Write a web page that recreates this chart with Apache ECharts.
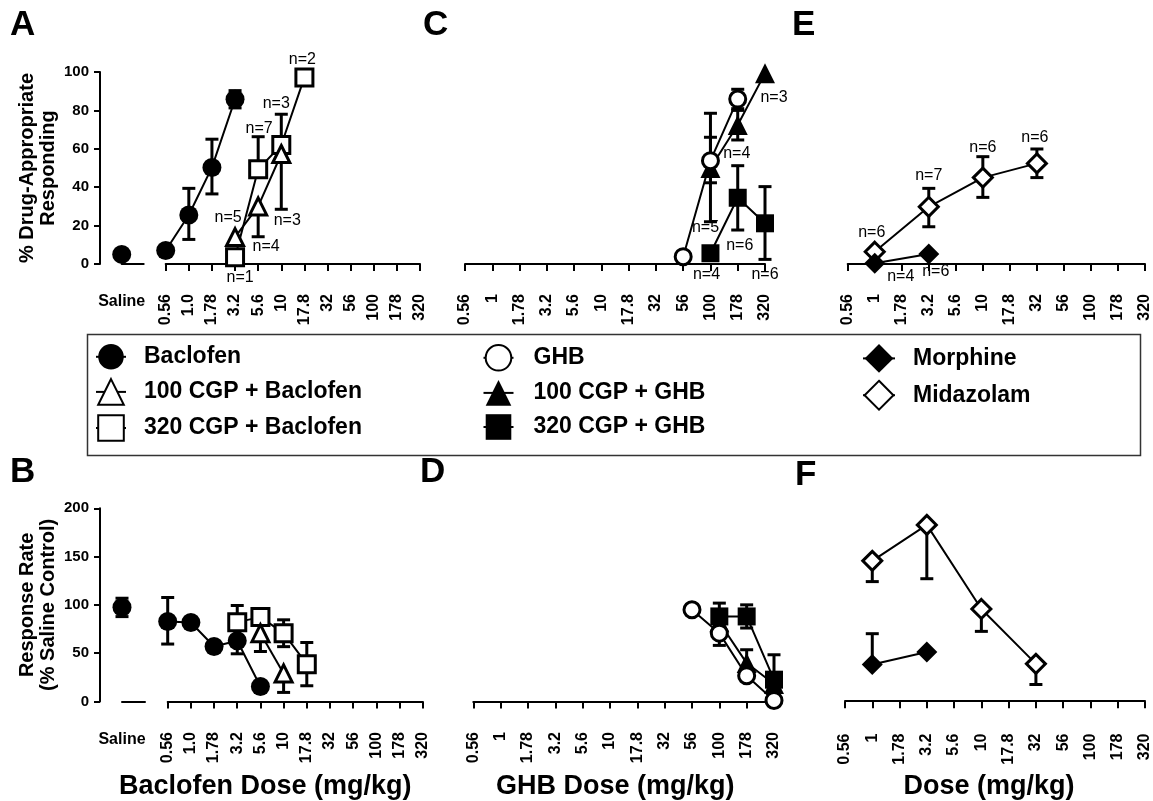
<!DOCTYPE html>
<html>
<head>
<meta charset="utf-8">
<script src="https://cdn.jsdelivr.net/npm/echarts@6/dist/echarts.min.js"></script>
<style>
  html, body { margin: 0; padding: 0; background: #fff; }
  #chart { width: 1153px; height: 801px; }
</style>
</head>
<body>
<div id="chart"></div>
<script>
const FONT = '"Liberation Sans", Arial, Helvetica, sans-serif';

// dose tick labels (half-log steps)
const bacDoses = ['0.56', '1.0', '1.78', '3.2', '5.6', '10', '17.8', '32', '56', '100', '178', '320'];
const doses = ['0.56', '1', '1.78', '3.2', '5.6', '10', '17.8', '32', '56', '100', '178', '320'];
const salineCats = ['Saline', ''];

// ---- A: % drug-appropriate responding, baclofen ----
const salineA = 5;
const bacA_dose = ['0.56', '1.0', '1.78', '3.2'];
const bacA_mean = [7, 25.5, 50.3, 85.8];
const bacA_lo = [null, 12.8, 36.5, 81.3];
const bacA_hi = [null, 39.4, 65, 90.3];

const c100BacA_dose = ['3.2', '5.6', '10'];
const c100BacA_mean = [14, 30, 57.3];
const c100BacA_lo = [null, 14.2, 28.5];
const c100BacA_hi = [null, null, null];
const c100BacA_n = [5, 4, 3];

const c320BacA_dose = ['3.2', '5.6', '10', '17.8'];
const c320BacA_mean = [3.5, 49.3, 62, 97.2];
const c320BacA_lo = [null, null, null, null];
const c320BacA_hi = [null, 66.3, 78, null];
const c320BacA_n = [1, 7, 3, 2];

// ---- B: response rate, baclofen ----
const salineB = 97.6;
const salineB_lo = 88;
const salineB_hi = 107;
const bacB_dose = ['0.56', '1.0', '1.78', '3.2', '5.6'];
const bacB_mean = [82.8, 81.7, 56.9, 62.8, 15.5];
const bacB_lo = [59.4, null, null, 49.3, null];
const bacB_hi = [107.6, null, null, 76.3, null];

const c100BacB_dose = ['5.6', '10'];
const c100BacB_mean = [70.7, 29];
const c100BacB_lo = [51.7, 9.3];
const c100BacB_hi = [89.7, null];

const c320BacB_dose = ['3.2', '5.6', '10', '17.8'];
const c320BacB_mean = [82.1, 87.3, 70.7, 38.6];
const c320BacB_lo = [65, null, 56.7, 16.2];
const c320BacB_hi = [99.3, null, 84.5, 61];

// ---- C: % drug-appropriate responding, GHB ----
const ghbC_dose = ['56', '100', '178'];
const ghbC_mean = [3.8, 53.8, 85.9];
const ghbC_lo = [null, 42.3, 80.9];
const ghbC_hi = [null, 66, 91];

const c100GhbC_dose = ['100', '178', '320'];
const c100GhbC_mean = [50, 72.4, 99.3];
const c100GhbC_lo = [22, 64.6, null];
const c100GhbC_hi = [78.5, 80, null];
const c100GhbC_n = [5, 4, 3];

const c320GhbC_dose = ['100', '178', '320'];
const c320GhbC_mean = [5.6, 34.5, 21.2];
const c320GhbC_lo = [null, 17.7, 2.4];
const c320GhbC_hi = [null, 51.2, 40.3];
const c320GhbC_n = [4, 6, 6];

// ---- D: response rate, GHB ----
const ghbD_dose = ['56', '100', '178', '320'];
const ghbD_mean = [94.9, 70.7, 26.6, 1];
const ghbD_lo = [null, 58, null, null];
const ghbD_hi = [null, null, null, null];

const c100GhbD_dose = ['100', '178', '320'];
const c100GhbD_mean = [82, 39.7, 18];
const c100GhbD_lo = [null, null, null];
const c100GhbD_hi = [null, 53.5, null];

const c320GhbD_dose = ['100', '178', '320'];
const c320GhbD_mean = [88, 88, 22.5];
const c320GhbD_lo = [null, 76, null];
const c320GhbD_hi = [101.8, 100, 48.3];

// ---- E: % drug-appropriate responding, morphine / midazolam ----
const midE_dose = ['1', '3.2', '10', '32'];
const midE_mean = [6.4, 29.8, 45, 52.4];
const midE_lo = [null, 19.4, 34.7, 45];
const midE_hi = [null, 39.4, 55.9, 59.9];
const midE_n = [6, 7, 6, 6];

const morE_dose = ['1', '3.2'];
const morE_mean = [0.4, 5.2];
const morE_n = [4, 6];

// ---- F: response rate, morphine / midazolam ----
const midF_dose = ['1', '3.2', '10', '32'];
const midF_mean = [145.5, 182.8, 95.6, 38.7];
const midF_lo = [124, 127, 72.4, 17.3];
const midF_hi = [null, null, null, null];

const morF_dose = ['1', '3.2'];
const morF_mean = [38, 51];
const morF_lo = [null, null];
const morF_hi = [70, null];

// ---- styles ----
const STYLE = {
  'Baclofen':            { symbol: 'circle',   size: 19, fill: '#000', bw: 0 },
  '100 CGP + Baclofen':  { symbol: 'triangle', size: 17, fill: '#fff', bw: 3 },
  '320 CGP + Baclofen':  { symbol: 'rect',     size: 17, fill: '#fff', bw: 3 },
  'GHB':                 { symbol: 'circle',   size: 16, fill: '#fff', bw: 3 },
  '100 CGP + GHB':       { symbol: 'triangle', size: 20, fill: '#000', bw: 0 },
  '320 CGP + GHB':       { symbol: 'rect',     size: 18, fill: '#000', bw: 0 },
  'Morphine':            { symbol: 'diamond',  size: 21, fill: '#000', bw: 0 },
  'Midazolam':           { symbol: 'diamond',  size: 19, fill: '#fff', bw: 3 }
};

// n-label offsets from the symbol centre (px)
const OFF_c100BacA = [[-7, -20], [8, 40], [6, 67]];
const OFF_c320BacA = [[5, 20], [1, -41], [-5, -41], [-2, -18]];
const OFF_c100GhbC = [[-5, 60], [-1, 29], [9, 24]];
const OFF_c320GhbC = [[-4, 21], [2, 48], [0, 51]];
const OFF_midE = [[-3, -19], [0, -31], [0, -30], [-2, -26]];
const OFF_morE = [[26, 13], [7, 18]];

const grids = [
  { left: 165.7, top: 72, width: 254.3, height: 192 },      // 0 A
  { left: 121.7, top: 72, width: 22, height: 192 },         // 1 A saline
  { left: 465, top: 72, width: 300, height: 192 },          // 2 C
  { left: 847.7, top: 72, width: 304, height: 192 },        // 3 E
  { left: 167.7, top: 508.3, width: 255, height: 193.4 },   // 4 B
  { left: 122, top: 508.3, width: 23, height: 193.4 },      // 5 B saline
  { left: 473.3, top: 508.3, width: 300.7, height: 193.4 }, // 6 D
  { left: 845, top: 508.3, width: 302.3, height: 193.4 }    // 7 F
];

function doseAxis(gridIndex, labels, offset, extra) {
  return Object.assign({
    type: 'category', gridIndex, data: labels, boundaryGap: false, offset,
    axisLine: { lineStyle: { color: '#000', width: 2 } },
    axisTick: { show: true, length: 7, interval: 0, lineStyle: { color: '#000', width: 2 } },
    axisLabel: { interval: 0, rotate: 90, margin: 9, color: '#000', fontSize: 16, fontWeight: 'bold', fontFamily: FONT },
    splitLine: { show: false }
  }, extra || {});
}

function salineAxis(gridIndex, offset) {
  return {
    type: 'category', gridIndex, data: salineCats, boundaryGap: false, offset,
    axisLine: { lineStyle: { color: '#000', width: 2 } },
    axisTick: { show: false },
    axisLabel: { interval: 0, margin: 9, color: '#000', fontSize: 16, fontWeight: 'bold', fontFamily: FONT },
    splitLine: { show: false }
  };
}

function xName(text, gap, padRight) {
  return {
    name: text, nameLocation: 'middle', nameGap: gap,
    nameTextStyle: { fontSize: 27, fontWeight: 'bold', color: '#000', fontFamily: FONT, padding: [0, padRight, 0, 0] }
  };
}

function yAxis(gridIndex, max, interval, visible, offset, name) {
  const ax = {
    type: 'value', gridIndex, min: 0, max, interval, show: visible, offset: offset || 0,
    axisLine: { show: true, lineStyle: { color: '#000', width: 2 } },
    axisTick: { show: true, length: 6, lineStyle: { color: '#000', width: 2 } },
    axisLabel: { margin: 11, color: '#000', fontSize: 15, fontWeight: 'bold', fontFamily: FONT },
    splitLine: { show: false }
  };
  if (name) {
    Object.assign(ax, {
      name, nameLocation: 'middle', nameRotate: 90, nameGap: 41,
      nameTextStyle: { fontSize: 20, fontWeight: 'bold', color: '#000', fontFamily: FONT, lineHeight: 21 }
    });
  }
  return ax;
}

function lineSeries(name, grid, xs, ys, nList, offs) {
  const s = STYLE[name];
  return {
    type: 'line', name, xAxisIndex: grid, yAxisIndex: grid,
    symbol: s.symbol, symbolSize: s.size, showAllSymbol: true, clip: false,
    itemStyle: { color: s.fill, borderColor: '#000', borderWidth: s.bw },
    lineStyle: { color: '#000', width: 2 },
    emphasis: { disabled: true },
    data: xs.map((d, i) => {
      const item = { value: [d, ys[i]] };
      if (nList && nList[i] != null) {
        item.label = {
          show: true, position: 'inside', offset: offs[i], formatter: 'n=' + nList[i],
          color: '#000', fontSize: 16, fontFamily: FONT, textBorderWidth: 0
        };
      }
      return item;
    })
  };
}

function errRender(params, api) {
  const x = api.value(0), m = api.value(1);
  const c = api.coord([x, m]);
  const children = [];
  [api.value(2), api.value(3)].forEach(e => {
    if (e == null || isNaN(e)) return;
    const p = api.coord([x, e]);
    children.push({ type: 'line', shape: { x1: c[0], y1: c[1], x2: p[0], y2: p[1] }, style: { stroke: '#000', lineWidth: 3 } });
    children.push({ type: 'line', shape: { x1: p[0] - 6.5, y1: p[1], x2: p[0] + 6.5, y2: p[1] }, style: { stroke: '#000', lineWidth: 3 } });
  });
  return { type: 'group', children };
}

function errSeries(grid, xs, ys, lo, hi) {
  return {
    type: 'custom', xAxisIndex: grid, yAxisIndex: grid, clip: false, silent: true, z: 1,
    renderItem: errRender,
    data: xs.map((d, i) => [d, ys[i], lo[i] == null ? '-' : lo[i], hi[i] == null ? '-' : hi[i]])
  };
}

const series = [
  // error bars
  errSeries(0, bacA_dose, bacA_mean, bacA_lo, bacA_hi),
  errSeries(0, c100BacA_dose, c100BacA_mean, c100BacA_lo, c100BacA_hi),
  errSeries(0, c320BacA_dose, c320BacA_mean, c320BacA_lo, c320BacA_hi),
  errSeries(5, ['Saline'], [salineB], [salineB_lo], [salineB_hi]),
  errSeries(4, bacB_dose, bacB_mean, bacB_lo, bacB_hi),
  errSeries(4, c100BacB_dose, c100BacB_mean, c100BacB_lo, c100BacB_hi),
  errSeries(4, c320BacB_dose, c320BacB_mean, c320BacB_lo, c320BacB_hi),
  errSeries(2, ghbC_dose, ghbC_mean, ghbC_lo, ghbC_hi),
  errSeries(2, c100GhbC_dose, c100GhbC_mean, c100GhbC_lo, c100GhbC_hi),
  errSeries(2, c320GhbC_dose, c320GhbC_mean, c320GhbC_lo, c320GhbC_hi),
  errSeries(6, ghbD_dose, ghbD_mean, ghbD_lo, ghbD_hi),
  errSeries(6, c100GhbD_dose, c100GhbD_mean, c100GhbD_lo, c100GhbD_hi),
  errSeries(6, c320GhbD_dose, c320GhbD_mean, c320GhbD_lo, c320GhbD_hi),
  errSeries(3, midE_dose, midE_mean, midE_lo, midE_hi),
  errSeries(7, midF_dose, midF_mean, midF_lo, midF_hi),
  errSeries(7, morF_dose, morF_mean, morF_lo, morF_hi),

  // A
  lineSeries('320 CGP + Baclofen', 0, c320BacA_dose, c320BacA_mean, c320BacA_n, OFF_c320BacA),
  lineSeries('100 CGP + Baclofen', 0, c100BacA_dose, c100BacA_mean, c100BacA_n, OFF_c100BacA),
  lineSeries('Baclofen', 0, bacA_dose, bacA_mean),
  lineSeries('Baclofen', 1, ['Saline'], [salineA]),
  // C
  lineSeries('320 CGP + GHB', 2, c320GhbC_dose, c320GhbC_mean, c320GhbC_n, OFF_c320GhbC),
  lineSeries('100 CGP + GHB', 2, c100GhbC_dose, c100GhbC_mean, c100GhbC_n, OFF_c100GhbC),
  lineSeries('GHB', 2, ghbC_dose, ghbC_mean),
  // E
  lineSeries('Midazolam', 3, midE_dose, midE_mean, midE_n, OFF_midE),
  lineSeries('Morphine', 3, morE_dose, morE_mean, morE_n, OFF_morE),
  // B
  lineSeries('320 CGP + Baclofen', 4, c320BacB_dose, c320BacB_mean),
  lineSeries('100 CGP + Baclofen', 4, c100BacB_dose, c100BacB_mean),
  lineSeries('Baclofen', 4, bacB_dose, bacB_mean),
  lineSeries('Baclofen', 5, ['Saline'], [salineB]),
  // D
  lineSeries('320 CGP + GHB', 6, c320GhbD_dose, c320GhbD_mean),
  lineSeries('100 CGP + GHB', 6, c100GhbD_dose, c100GhbD_mean),
  lineSeries('GHB', 6, ghbD_dose, ghbD_mean),
  // F
  lineSeries('Midazolam', 7, midF_dose, midF_mean),
  lineSeries('Morphine', 7, morF_dose, morF_mean)
];

const legendText = { fontFamily: FONT, fontSize: 23, fontWeight: 'bold', color: '#000' };

const option = {
  animation: false,
  backgroundColor: '#fff',
  title: [
    ['A', 10, 8], ['C', 423, 8], ['E', 792, 8],
    ['B', 10, 455], ['D', 420, 455], ['F', 795, 458]
  ].map(([t, l, tp]) => ({
    text: t, left: l, top: tp, padding: 0,
    textStyle: { fontFamily: FONT, fontSize: 35, fontWeight: 'bold', color: '#000' }
  })),
  grid: grids,
  xAxis: [
    doseAxis(0, bacDoses, 21),
    salineAxis(1, 21),
    doseAxis(2, doses, 21),
    doseAxis(3, doses, 21),
    doseAxis(4, bacDoses, 21.6, xName('Baclofen Dose (mg/kg)', 50, 60)),
    salineAxis(5, 21),
    doseAxis(6, doses, 21.6, xName('GHB Dose (mg/kg)', 50, 17)),
    doseAxis(7, doses, 23.3, xName('Dose (mg/kg)', 48.5, 12))
  ],
  yAxis: [
    yAxis(0, 100, 20, true, 65.7, '% Drug-Appropriate\nResponding'),
    yAxis(1, 100, 20, false),
    yAxis(2, 100, 20, false),
    yAxis(3, 100, 20, false),
    yAxis(4, 200, 50, true, 67.7, 'Response Rate\n(% Saline Control)'),
    yAxis(5, 200, 50, false),
    yAxis(6, 200, 50, false),
    yAxis(7, 200, 50, false)
  ],
  legend: [
    {
      data: ['Baclofen', '100 CGP + Baclofen', '320 CGP + Baclofen'],
      orient: 'vertical', left: 95, top: 344, padding: 0,
      itemWidth: 30, itemHeight: 32, itemGap: 8.5, selectedMode: false,
      textStyle: Object.assign({ padding: [0, 0, 0, 13] }, legendText)
    },
    {
      data: ['GHB', '100 CGP + GHB', '320 CGP + GHB'],
      orient: 'vertical', left: 482.5, top: 344, padding: 0,
      itemWidth: 30, itemHeight: 32, itemGap: 8.5, selectedMode: false,
      textStyle: Object.assign({ padding: [0, 0, 0, 15] }, legendText)
    },
    {
      data: ['Morphine', 'Midazolam'],
      orient: 'vertical', left: 862, top: 344, padding: 0,
      itemWidth: 32, itemHeight: 36, itemGap: 7, selectedMode: false,
      textStyle: Object.assign({ padding: [0, 0, 0, 13] }, legendText)
    }
  ],
  graphic: [{
    type: 'rect', left: 85, top: 332, z: 0, silent: true,
    shape: { width: 1053, height: 121 },
    style: { fill: 'none', stroke: '#333', lineWidth: 1.5 }
  }],
  series
};

const chart = echarts.init(document.getElementById('chart'));
chart.setOption(option);
</script>
</body>
</html>
